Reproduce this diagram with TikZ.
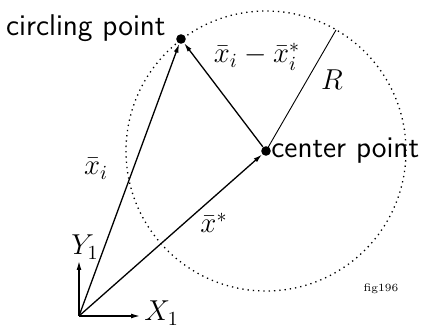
\documentclass[tikz,border=0pt]{standalone}
\usepackage{amsmath,amssymb}
\usetikzlibrary{arrows.meta,positioning}

\begin{document}
\begin{tikzpicture}[x=0.5pt,y=0.5pt,>={Latex[length=4.4pt,width=2.4pt]},
dot/.style={circle,fill=black,inner sep=0pt,minimum size=4.8pt},
vec/.style={->,line width=0.65pt},
lab/.style={font=\fontsize{13.9}{16}\selectfont,inner sep=0pt},
word/.style={font=\fontsize{15}{18}\sffamily,inner sep=0pt}]
\useasboundingbox (0,0) rectangle (424,327);
\coordinate (orig) at (79,11);
\node[dot] (ctr) at (266,176) {};
\node[dot] (circ) at (181,288) {};
\coordinate (rim) at (336,297);
\coordinate (xtip) at (140,11);
\coordinate (ytip) at (79,66);
\draw[dotted,line width=0.65pt] (ctr.center) circle[radius=70pt];
\draw[vec] (orig)--(xtip);
\draw[vec] (orig)--(ytip);
\draw[vec] (orig)--(circ);
\draw[vec] (orig)--(ctr);
\draw[vec] (ctr)--(circ);
\draw[line width=0.45pt] (ctr.center)--(rim);
\node[word,anchor=base east] (circlab) at (166,291) {circling point};
\node[word,anchor=base west] (ctrlab) at (271,169) {center point};
\node[lab,anchor=base] (difflab) at (257,264) {$\bar{x}_i-\bar{x}_i^*$};
\node[lab,anchor=base] (rlab) at (332,237) {$R$};
\node[lab,anchor=base] (xilab) at (96,152) {$\bar{x}_i$};
\node[lab,anchor=base] (xslab) at (214,94) {$\bar{x}^*$};
\node[lab,anchor=base] (ylab) at (85,72) {$Y_1$};
\node[lab,anchor=base west] (xlab) at (144,6) {$X_1$};
\node[inner sep=0pt,anchor=base,font=\fontsize{5.5}{6}\selectfont] (tag) at (381,35) {fig196};
\end{tikzpicture}
\end{document}
